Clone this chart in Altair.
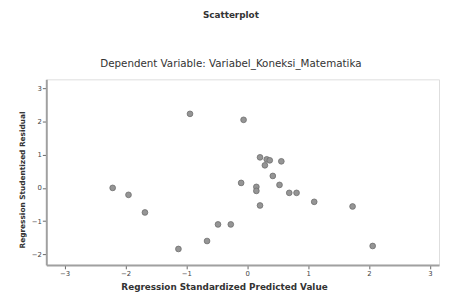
import altair as alt
import pandas as pd

predicted = [-2.21, -1.95, -1.68, -1.13, -0.94, -0.66, -0.48, -0.27, -0.06, -0.10,
             0.15, 0.15, 0.21, 0.21, 0.32, 0.37, 0.29, 0.56, 0.42, 0.53,
             0.69, 0.81, 1.10, 1.73, 2.06]
residual = [0.00, -0.21, -0.74, -1.84, 2.23, -1.60, -1.10, -1.10, 2.05, 0.15,
            0.03, -0.09, -0.53, 0.92, 0.86, 0.83, 0.68, 0.80, 0.36, 0.09,
            -0.15, -0.15, -0.42, -0.56, -1.75]
x_ticks = [-3, -2, -1, 0, 1, 2, 3]
y_ticks = [-2, -1, 0, 1, 2, 3]

df = pd.DataFrame({"pred": predicted, "res": residual})

font = "DejaVu Sans"

chart = alt.Chart(df).mark_point(
    filled=True, size=34, fill="#959595", stroke="#6e6e6e", strokeWidth=0.8, opacity=1
).encode(
    x=alt.X("pred:Q", scale=alt.Scale(domain=[-3.3, 3.15], nice=False, zero=False),
            axis=alt.Axis(values=x_ticks, format="d", title="Regression Standardized Predicted Value",
                          titleX=181, titleY=22, titleAlign="center", titleBaseline="middle",
                          titleFont=font, titleFontSize=9, titleFontWeight="bold", titleColor="#333",
                          labelFont=font, labelFontSize=7, labelColor="#444", labelPadding=1,
                          tickSize=4, tickColor="#666", domainColor="#a0a0a0", domainWidth=2,
                          grid=False)),
    y=alt.Y("res:Q", scale=alt.Scale(domain=[-2.32, 3.27], nice=False, zero=False),
            axis=alt.Axis(values=y_ticks, format="d", title="Regression Studentized Residual",
                          titleX=-24, titleY=102, titleAlign="center", titleBaseline="middle",
                          titleAngle=270,
                          titleFont=font, titleFontSize=7.5, titleFontWeight="bold", titleColor="#333",
                          labelFont=font, labelFontSize=7, labelColor="#444", labelPadding=1,
                          tickSize=4, tickColor="#666", domainColor="#a0a0a0", domainWidth=2,
                          grid=False)),
).properties(
    width=400, height=189,
    title=alt.TitleParams(
        text="Scatterplot",
        subtitle="Dependent Variable: Variabel_Koneksi_Matematika",
        anchor="middle", dx=-12, offset=10,
        font=font, fontSize=9, fontWeight="bold", color="#333",
        subtitleFont=font, subtitleFontSize=10.5, subtitleColor="#333", subtitlePadding=40,
    ),
    autosize=alt.AutoSizeParams(type="none"),
    padding={"left": 39, "top": 70, "right": 2, "bottom": 28},
).configure_view(
    fill="#f0f0f0", stroke="#a0a0a0", strokeWidth=1.5
).configure(background="white")

chart.save("out.html", embed_options={"renderer": "svg", "actions": False})
